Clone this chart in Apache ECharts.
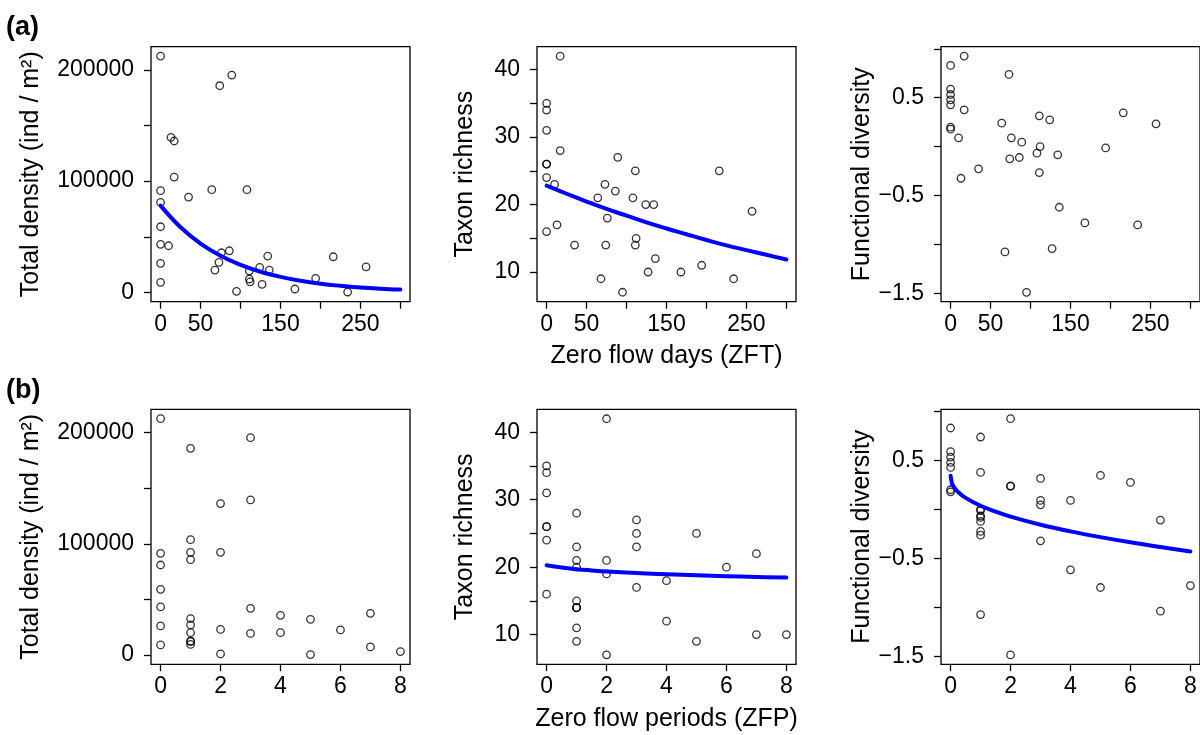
<!DOCTYPE html>
<html>
<head>
<meta charset="utf-8">
<script src="https://cdn.jsdelivr.net/npm/echarts@6/dist/echarts.min.js"></script>
<style>
  html, body { margin: 0; padding: 0; background: #fff; }
  #chart { width: 1200px; height: 735px; }
</style>
</head>
<body>
<div id="chart"></div>
<script>
// one entry per site (33 sites), same order in every array
const zeroFlowDays = [0, 0, 0, 0, 0, 0, 0, 10, 13, 17, 17, 35, 64, 68, 73, 74, 76, 86, 89, 95, 108, 111, 111, 112, 124, 127, 134, 136, 168, 194, 216, 234, 257];
const zeroFlowPeriods = [0, 0, 0, 0, 0, 0, 0, 3, 3, 2, 1, 1, 2, 1, 1, 1, 4, 7, 3, 2, 1, 3, 1, 1, 6, 7, 1, 4, 8, 1, 5, 5, 2];
const totalDensity = [212500, 91400, 80900, 59000, 43200, 26100, 9000, 41900, 139400, 136100, 103700, 85700, 92300, 20000, 27000, 185800, 35600, 37400, 195400, 900, 92300, 19400, 12000, 9500, 22500, 7200, 32600, 20000, 3000, 12600, 32000, 300, 23000];
const taxonRichness = [35, 34, 31, 26, 26, 24, 16, 23, 17, 42, 28, 14, 21, 9, 23, 14, 18, 22, 27, 7, 21, 25, 14, 15, 20, 10, 20, 12, 10, 11, 25, 9, 19];
const functionalDiversity = [0.830, 0.588, 0.533, 0.479, 0.428, 0.200, 0.179, 0.091, -0.322, 0.925, 0.377, -0.226, 0.240, -1.074, 0.738, -0.124, 0.091, -0.110, 0.046, -1.486, -0.066, 0.315, -0.264, 0.002, 0.275, -1.040, -0.083, -0.618, -0.778, -0.012, 0.346, -0.798, 0.234];

// fitted curves
const zftFitX = [0, 25, 50, 75, 100, 125, 150, 175, 200, 225, 250, 275, 300];
const densityFitZft = [78000, 58500, 43900, 32900, 24700, 18500, 13900, 10400, 7800, 5900, 4400, 3300, 2500];
const richnessFitZft = [22.8, 21.6, 20.45, 19.35, 18.35, 17.35, 16.45, 15.6, 14.75, 13.95, 13.25, 12.55, 11.85];
const zfpFitX = [0, 0.05, 0.1, 0.25, 0.5, 1, 1.5, 2, 3, 4, 5, 6, 7, 8];
const richnessFitZfp = [20.28, 20.24, 20.2, 20.09, 19.94, 19.7, 19.52, 19.36, 19.12, 18.94, 18.79, 18.66, 18.55, 18.45];
const diversityFitZfp = [0.343, 0.262, 0.233, 0.177, 0.117, 0.036, -0.024, -0.075, -0.157, -0.225, -0.284, -0.337, -0.385, -0.43];

// axis ticks and labels
const zftTicks = [0, 50, 100, 150, 200, 250, 300];
const zftLabels = [0, 50, 150, 250];
const zfpTicks = [0, 2, 4, 6, 8];
const densityTicks = [0, 50000, 100000, 150000, 200000];
const densityLabels = [0, 100000, 200000];
const richnessTicks = [10, 15, 20, 25, 30, 35, 40];
const richnessLabels = [10, 20, 30, 40];
const diversityTicks = [-1.5, -1, -0.5, 0, 0.5, 1];
const diversityLabels = [-1.5, -0.5, 0.5];

const FONT = "'Liberation Sans', Arial, Helvetica, sans-serif";
const colLeft = [151, 537, 941];
const rowTop = [46.7, 409.3];
const boxW = 259;
const boxH = 255;

const zip = (xs, ys) => xs.map((x, i) => [x, ys[i]]);
const fmt = v => String(v).replace('-', '\u2212');

const grids = [];
rowTop.forEach(top => {
  colLeft.forEach(left => {
    grids.push({
      left, top, width: boxW, height: boxH,
      show: true, borderColor: '#000', borderWidth: 1.3, backgroundColor: 'transparent',
      containLabel: false,
    });
  });
});

function axisBase(ticks, labels) {
  return {
    type: 'value',
    splitLine: { show: false },
    axisLine: { show: false, onZero: false },
    axisTick: { show: true, inside: false, length: 7, customValues: ticks, lineStyle: { color: '#000', width: 1.3 } },
    axisLabel: { customValues: labels, formatter: fmt, color: '#000', fontSize: 23, fontFamily: FONT },
  };
}

const xAxes = [];
const yAxes = [];
const yDefs = [
  { min: -8400, max: 220900, ticks: densityTicks, labels: densityLabels, name: 'Total density (ind / m\u00b2)', gap: 107 },
  { min: 5.6, max: 43.4, ticks: richnessTicks, labels: richnessLabels, name: 'Taxon richness', gap: 59 },
  { min: -1.582, max: 1.021, ticks: diversityTicks, labels: diversityLabels, name: 'Functional diversity', gap: 58 },
];
const xDefs = [
  { min: -12, max: 312, ticks: zftTicks, labels: zftLabels, name: 'Zero flow days (ZFT)' },
  { min: -0.32, max: 8.32, ticks: zfpTicks, labels: zfpTicks, name: 'Zero flow periods (ZFP)' },
];

for (let r = 0; r < 2; r++) {
  for (let c = 0; c < 3; c++) {
    const gi = r * 3 + c;
    const xd = xDefs[r];
    const yd = yDefs[c];
    const xa = axisBase(xd.ticks, xd.labels);
    Object.assign(xa, { gridIndex: gi, position: 'bottom', min: xd.min, max: xd.max });
    xa.axisLabel.margin = 11;
    if (c === 1) {
      Object.assign(xa, {
        name: xd.name, nameLocation: 'middle', nameGap: 42,
        nameTextStyle: { color: '#000', fontSize: 25, fontFamily: FONT },
      });
    }
    xAxes.push(xa);

    const ya = axisBase(yd.ticks, yd.labels);
    Object.assign(ya, {
      gridIndex: gi, position: 'left', min: yd.min, max: yd.max,
      name: yd.name, nameLocation: 'middle', nameGap: yd.gap, nameRotate: 90,
      nameTextStyle: { color: '#000', fontSize: 25, fontFamily: FONT },
    });
    ya.axisLabel.margin = 17;
    yAxes.push(ya);
  }
}

const responses = [totalDensity, taxonRichness, functionalDiversity];
const predictors = [zeroFlowDays, zeroFlowPeriods];
const series = [];
for (let r = 0; r < 2; r++) {
  for (let c = 0; c < 3; c++) {
    const gi = r * 3 + c;
    series.push({
      type: 'scatter',
      xAxisIndex: gi, yAxisIndex: gi,
      symbol: 'circle', symbolSize: 7.5,
      itemStyle: { color: 'transparent', borderColor: '#000', borderWidth: 1.3 },
      silent: true,
      data: zip(predictors[r], responses[c]),
    });
  }
}

const fits = [
  { gi: 0, data: zip(zftFitX, densityFitZft) },
  { gi: 1, data: zip(zftFitX, richnessFitZft) },
  { gi: 4, data: zip(zfpFitX, richnessFitZfp) },
  { gi: 5, data: zip(zfpFitX, diversityFitZfp) },
];
fits.forEach(f => {
  series.push({
    type: 'line',
    xAxisIndex: f.gi, yAxisIndex: f.gi,
    showSymbol: false, symbol: 'none',
    smooth: 0.4,
    clip: true,
    lineStyle: { color: '#0000ff', width: 4, cap: 'round', join: 'round' },
    data: f.data,
  });
});

const myChart = echarts.init(document.getElementById('chart'), null, { renderer: 'canvas' });
myChart.setOption({
  animation: false,
  backgroundColor: '#fff',
  grid: grids,
  xAxis: xAxes,
  yAxis: yAxes,
  series,
  graphic: [
    { type: 'text', left: 6, top: 14, style: { text: '(a)', font: 'bold 27px ' + FONT, fill: '#000' } },
    { type: 'text', left: 6, top: 377, style: { text: '(b)', font: 'bold 27px ' + FONT, fill: '#000' } },
  ],
});
</script>
</body>
</html>
